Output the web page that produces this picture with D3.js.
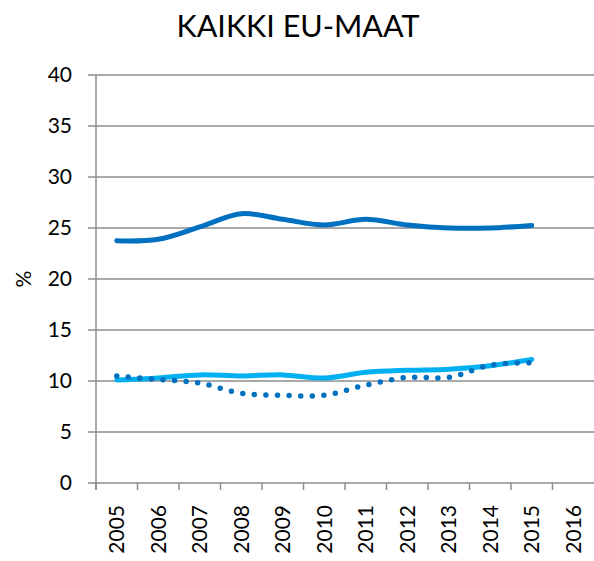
<!DOCTYPE html>
<meta charset="utf-8">
<head>
  <script src="https://d3js.org/d3.v7.min.js"></script>
  <style>
    body { margin: 0; background: #fff; }
    text { font-family: Lato, "Open Sans", sans-serif; fill: #000; }
  </style>
</head>
<body>
<div id="chart"></div>
<script>
// data
var years = ["2005","2006","2007","2008","2009","2010","2011","2012","2013","2014","2015","2016"];
var darkSeries = [23.75, 23.9, 25.1, 26.4, 25.85, 25.3, 25.85, 25.3, 25.0, 25.0, 25.25];
var lightSeries = [10.1, 10.3, 10.6, 10.5, 10.6, 10.3, 10.85, 11.05, 11.15, 11.5, 12.1];
var dottedSeries = [10.5, 10.15, 9.8, 8.8, 8.6, 8.6, 9.6, 10.35, 10.35, 11.55, 11.8];
var yTicks = [0, 5, 10, 15, 20, 25, 30, 35, 40];

var margin = {top: 75, right: 0, bottom: 78, left: 96},
    width = 594 - margin.left - margin.right,
    height = 561 - margin.top - margin.bottom;

var svg = d3.select("#chart")
  .append("svg")
    .attr("width", 594)
    .attr("height", 561)
  .append("g")
    .attr("transform", "translate(" + margin.left + "," + margin.top + ")");

var x = d3.scaleBand().domain(years).range([0, 41.5 * 12]);
var y = d3.scaleLinear().domain([0, 40]).range([height, 0]);

// gridlines
svg.selectAll(".grid")
  .data(yTicks)
  .enter()
  .append("line")
    .attr("x1", -8)
    .attr("x2", width)
    .attr("y1", function(d) { return y(d); })
    .attr("y2", function(d) { return y(d); })
    .attr("stroke", "#8c8c8c")
    .attr("stroke-width", 1.5);

// y axis
var yAxis = svg.append("g")
  .call(d3.axisLeft(y).tickValues(yTicks).tickSize(7).tickPadding(10));
yAxis.select(".domain").attr("stroke", "#8c8c8c").attr("stroke-width", 1.5)
  .attr("d", "M0," + y(40) + "V" + (height + 7));
yAxis.selectAll(".tick line").remove();
yAxis.selectAll("text").style("font-size", "21px").attr("x", -24);

// x axis
var xAxis = svg.append("g")
  .attr("transform", "translate(0," + height + ")")
  .call(d3.axisBottom(x).tickSize(0));
xAxis.select(".domain").remove();
xAxis.selectAll(".tick text")
  .style("font-size", "21px")
  .attr("transform", "rotate(-90)")
  .attr("x", -22)
  .attr("y", 0)
  .attr("dy", "0.35em")
  .style("text-anchor", "end");
svg.selectAll(".xtick")
  .data(years)
  .enter()
  .append("line")
    .attr("x1", function(d) { return x(d); })
    .attr("x2", function(d) { return x(d); })
    .attr("y1", height)
    .attr("y2", height + 7)
    .attr("stroke", "#8c8c8c")
    .attr("stroke-width", 1.5);

// y label
svg.append("text")
  .attr("transform", "translate(-72," + y(20) + ") rotate(-90)")
  .attr("text-anchor", "middle")
  .attr("dy", "0.35em")
  .style("font-size", "21px")
  .text("%");

// title
svg.append("text")
  .attr("x", 298 - margin.left)
  .attr("y", 37 - margin.top)
  .attr("text-anchor", "middle")
  .style("font-size", "30.5px")
  .text("KAIKKI EU-MAAT");

// lines
var line = d3.line()
  .x(function(d, i) { return x(years[i]) + x.bandwidth() / 2; })
  .y(function(d) { return y(d); })
  .curve(d3.curveCatmullRom.alpha(0.5));

svg.append("path")
  .datum(lightSeries)
  .attr("d", line)
  .attr("fill", "none")
  .attr("stroke", "#00b0f0")
  .attr("stroke-width", 5)
  .attr("stroke-linecap", "round");

svg.append("path")
  .datum(dottedSeries)
  .attr("d", line)
  .attr("fill", "none")
  .attr("stroke", "#0070c0")
  .attr("stroke-width", 5.5)
  .attr("stroke-linecap", "round")
  .attr("stroke-dasharray", "0 11.6");

svg.append("path")
  .datum(darkSeries)
  .attr("d", line)
  .attr("fill", "none")
  .attr("stroke", "#0070c0")
  .attr("stroke-width", 5)
  .attr("stroke-linecap", "round");
</script>
</body>
